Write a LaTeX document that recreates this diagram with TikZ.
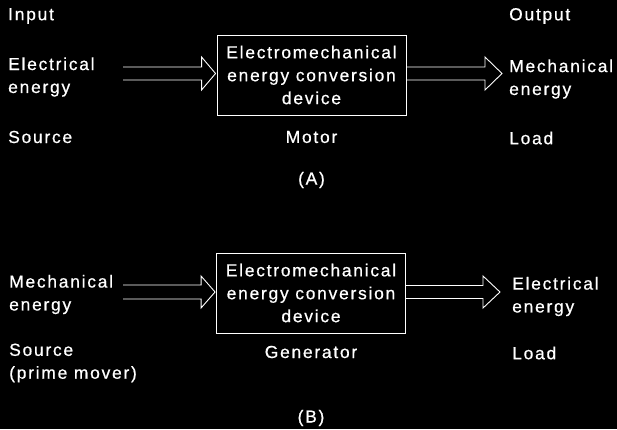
\documentclass[tikz,border=0pt]{standalone}
\usepackage{fontspec}
\setmainfont{Liberation Sans}[LetterSpace=10,FakeBold=0.6]
\usetikzlibrary{calc}
\begin{document}
\begin{tikzpicture}[x=1bp,y=-1bp,
  every node/.style={text=white,font=\fontsize{17.5}{23}\selectfont,inner sep=0pt},
  lbl/.style={anchor=west,align=left},
  ctr/.style={anchor=center,align=center},
  devbox/.style={draw=white,line width=0.9bp,minimum width=189bp,minimum height=80bp,align=center},
  hollow/.style={draw=white,line width=0.9bp,line join=miter}]
\fill[black] (0,0) rectangle (617,429);
\useasboundingbox (0,0) rectangle (617,429);
% ---------- (A)
\node[lbl] (inA) at (8,16) {Input};
\node[lbl] (srcA) at (8,77) {Electrical\\energy};
\node[lbl] (srcnA) at (8,137) {Source};
\node[devbox] (boxA) at (311.5,75) {Electromechanical\\energy conversion\\device};
\node[ctr] (motor) at (311.5,137) {Motor};
\node[ctr] (capA) at (311.5,180) {(A)};
\node[lbl] (outA) at (509,16) {Output};
\node[lbl] (loadA) at (509,79) {Mechanical\\energy};
\node[lbl] (loadnA) at (509,138) {Load};
\coordinate (a1s) at (123,73.5);
\coordinate (a1t) at ($(boxA.west)+(-1,-1.5)$);
\coordinate (a1u) at ($(a1t)+(-14,-6.5)$);
\coordinate (a1d) at ($(a1t)+(-14,6.5)$);
\draw[hollow] (a1s |- a1u) -- (a1u) -- ($(a1t)+(-14,-16.5)$)
  -- (a1t) -- ($(a1t)+(-14,16.5)$) -- (a1d) -- (a1s |- a1d);
\coordinate (a2t) at (502,73.5);
\coordinate (a2u) at ($(a2t)+(-17,-6.5)$);
\coordinate (a2d) at ($(a2t)+(-17,6.5)$);
\draw[hollow] (boxA.east |- a2u) -- (a2u) -- ($(a2t)+(-17,-16.5)$)
  -- (a2t) -- ($(a2t)+(-17,16.5)$) -- (a2d) -- (boxA.east |- a2d);
% ---------- (B)
\node[lbl] (srcB) at (9,294.5) {Mechanical\\energy};
\node[lbl] (srcnB) at (9,363) {Source\\(prime mover)};
\node[devbox] (boxB) at (311,293) {Electromechanical\\energy conversion\\device};
\node[ctr] (gen) at (311,352) {Generator};
\node[ctr] (capB) at (311,418) {(B)};
\node[lbl] (loadB) at (512,296.5) {Electrical\\energy};
\node[lbl] (loadnB) at (512,353) {Load};
\coordinate (b1s) at (123,292);
\coordinate (b1t) at ($(boxB.west)+(-1,-1)$);
\coordinate (b1u) at ($(b1t)+(-14,-7)$);
\coordinate (b1d) at ($(b1t)+(-14,7)$);
\draw[hollow] (b1s |- b1u) -- (b1u) -- ($(b1t)+(-14,-16)$)
  -- (b1t) -- ($(b1t)+(-14,16)$) -- (b1d) -- (b1s |- b1d);
\coordinate (b2t) at (500,292);
\coordinate (b2u) at ($(b2t)+(-17,-6.5)$);
\coordinate (b2d) at ($(b2t)+(-17,6.5)$);
\draw[hollow] (boxB.east |- b2u) -- (b2u) -- ($(b2t)+(-17,-16)$)
  -- (b2t) -- ($(b2t)+(-17,16)$) -- (b2d) -- (boxB.east |- b2d);
\end{tikzpicture}
\end{document}
